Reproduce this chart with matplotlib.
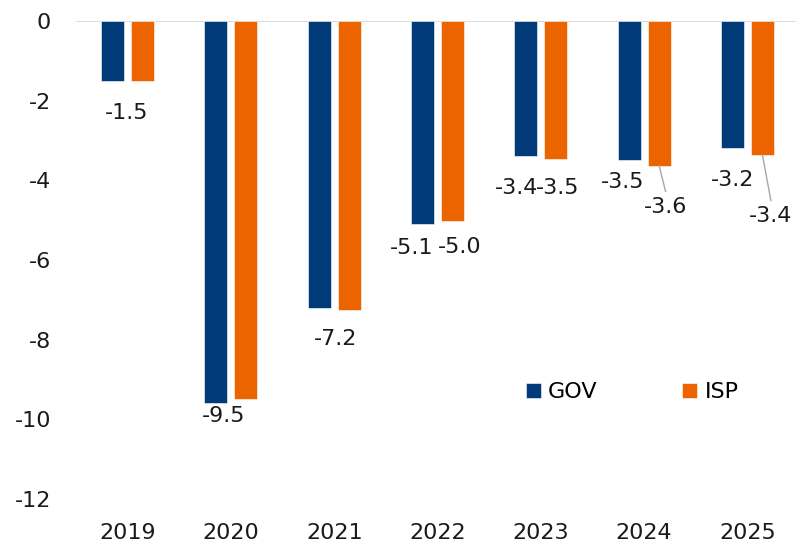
import numpy as np
import matplotlib.pyplot as plt

plt.rcParams['font.family'] = 'DejaVu Sans'
plt.rcParams['axes.unicode_minus'] = False

years = ['2019', '2020', '2021', '2022', '2023', '2024', '2025']
gov = [-1.5, -9.58, -7.2, -5.1, -3.4, -3.5, -3.2]
isp = [-1.5, -9.5, -7.25, -5.03, -3.46, -3.63, -3.36]

BLUE = '#003A78'
ORANGE = '#EB6400'
FS = 16

# which bars carry a label, with label offset from bar end (px) and leader flag
labels = [
    ('gov', 0, 13.5, -32, False),
    ('isp', 1, -22, -17, False),
    ('gov', 2, 16.5, -31, False),
    ('gov', 3, -10.5, -24, False),
    ('isp', 3, 7, -26, False),
    ('gov', 4, -9.5, -32, False),
    ('isp', 4, 2, -29, False),
    ('gov', 5, -6.5, -22, False),
    ('isp', 5, 6.5, -41, True),
    ('gov', 6, 0, -32, False),
    ('isp', 6, 8.5, -61, True),
]

fig = plt.figure(figsize=(7.96, 5.46), dpi=100)
ax = fig.add_axes([76 / 796, 1 - 499 / 546, 720 / 796, 478 / 546])

x = np.arange(len(years))
w = 0.223
off = 0.145
ax.bar(x - off, gov, w, color=BLUE, edgecolor='white', linewidth=0.4, label='GOV', zorder=2)
ax.bar(x + off, isp, w, color=ORANGE, edgecolor='white', linewidth=0.4, label='ISP', zorder=2)
ax.axhline(0, color='#D9D9D9', lw=1.3, zorder=1)

series = {'gov': (gov, -off), 'isp': (isp, off)}
for name, i, dx, dy, leader in labels:
    vals, o = series[name]
    v = vals[i]
    ax.annotate(f'{v:.1f}', xy=(i + o, v), xytext=(dx * 0.72, dy * 0.72),
                textcoords='offset points', ha='center', va='center',
                fontsize=FS, color='#1a1a1a')
    if leader:
        ax.annotate('', xy=(i + o, v), xytext=(dx * 0.72, (dy + 15) * 0.72),
                    textcoords='offset points',
                    arrowprops=dict(arrowstyle='-', color='#A6A6A6', lw=1.0,
                                    shrinkA=0, shrinkB=0))

ax.set_xlim(-0.5, 6.47)
ax.set_ylim(-12, 0)
ax.set_yticks(np.arange(-12, 1, 2))
ax.set_xticks(x)
ax.set_xticklabels(years)
ax.tick_params(axis='both', length=0, labelsize=FS, colors='#1a1a1a')
ax.tick_params(axis='y', pad=18)
ax.tick_params(axis='x', pad=17)
for s in ax.spines.values():
    s.set_visible(False)

ax.legend(loc='center left', bbox_to_anchor=((526 - 76) / 720, (499 - 392) / 478),
          ncol=2, frameon=False, fontsize=FS, handlelength=0.68, handleheight=0.68,
          handletextpad=0.32, columnspacing=3.8, borderpad=0, borderaxespad=0)

fig.savefig('out.png', dpi=100)
